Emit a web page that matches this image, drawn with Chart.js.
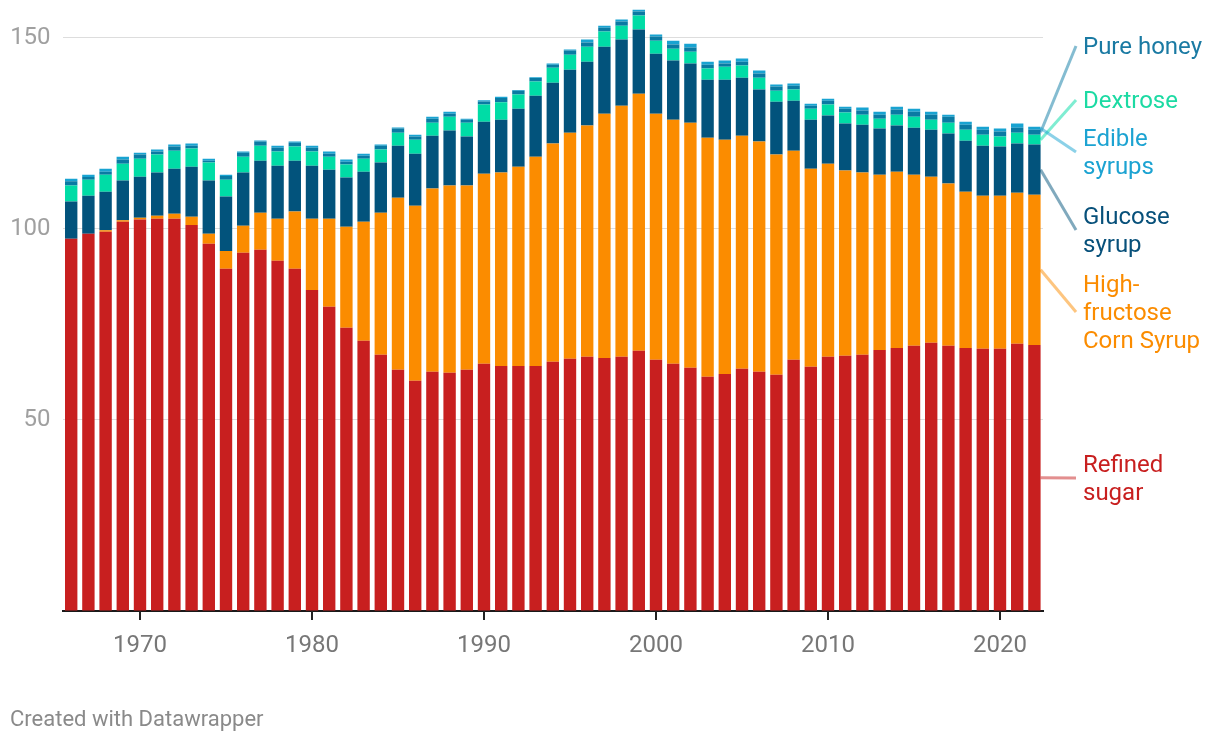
<!DOCTYPE html>
<html>
<head>
<meta charset="utf-8">
<script src="https://cdn.jsdelivr.net/npm/chart.js@4"></script>
<style>
  body { margin: 0; background: #fff; font-family: Roboto, sans-serif; }
  #wrap { position: relative; width: 1220px; height: 742px; }
  #c { position: absolute; left: 0; top: 0; }
  .lbl { position: absolute; left: 1083px; font-size: 24px; line-height: 28px; white-space: nowrap; }
  .foot { position: absolute; left: 10px; top: 706px; font-size: 22px; color: #8a8a8a; }
</style>
</head>
<body>
<div id="wrap">
  <canvas id="c" width="1220" height="742"></canvas>
  <div class="foot">Created with Datawrapper</div>
</div>
<script>
const years = [];
for (let y = 1966; y <= 2022; y++) years.push(y);

const refinedSugar = [97.4, 98.7, 99.2, 101.8, 102.4, 102.6, 102.6, 101.0, 96.1, 89.5,
  93.7, 94.5, 91.6, 89.5, 84.0, 79.6, 74.1, 70.7, 67.0, 63.1,
  60.2, 62.6, 62.3, 63.1, 64.7, 64.1, 64.1, 64.1, 65.2, 66.0,
  66.5, 66.2, 66.5, 68.1, 65.7, 64.7, 63.6, 61.3, 62.0, 63.4,
  62.6, 61.8, 65.7, 63.9, 66.5, 66.8, 67.0, 68.3, 68.8, 69.4,
  70.2, 69.4, 68.8, 68.6, 68.6, 69.9, 69.6];
const hfcs = [0, 0, 0.4, 0.4, 0.5, 0.8, 1.3, 2.1, 2.6, 4.7,
  7.1, 9.7, 11.0, 15.0, 18.6, 23.0, 26.4, 31.1, 37.2, 45.0,
  45.8, 47.9, 49.0, 48.2, 49.7, 50.6, 52.1, 54.7, 57.1, 59.1,
  60.5, 63.9, 65.7, 67.2, 64.4, 63.8, 64.1, 62.5, 61.3, 60.9,
  60.2, 57.6, 54.7, 51.8, 50.5, 48.4, 47.7, 45.8, 46.1, 44.7,
  43.4, 42.4, 40.9, 40.0, 40.0, 39.5, 39.3];
const glucoseSyrup = [9.7, 9.9, 10.1, 10.4, 10.7, 11.3, 11.8, 13.1, 13.9, 14.2,
  13.9, 13.6, 13.9, 13.3, 13.9, 12.8, 12.9, 13.1, 13.1, 13.6,
  13.6, 13.8, 14.4, 12.8, 13.6, 13.8, 15.2, 16.0, 15.9, 16.5,
  16.7, 17.5, 17.3, 16.8, 15.7, 15.5, 15.5, 15.2, 15.7, 15.2,
  13.6, 13.8, 13.1, 12.8, 12.6, 12.3, 12.5, 12.1, 12.1, 12.3,
  12.3, 13.1, 13.3, 13.1, 12.9, 12.9, 13.1];
const dextrose = [4.2, 4.2, 4.4, 4.4, 4.7, 4.7, 4.7, 4.8, 4.7, 4.4,
  4.1, 3.9, 3.7, 3.7, 3.7, 3.4, 3.4, 3.4, 3.4, 3.4,
  3.7, 3.4, 3.6, 3.6, 4.5, 4.6, 3.7, 3.7, 3.9, 3.9,
  3.9, 4.0, 3.6, 3.7, 3.4, 3.1, 3.1, 2.9, 3.4, 3.2,
  3.1, 2.9, 2.9, 2.9, 2.9, 2.9, 2.6, 2.6, 2.8, 2.9,
  2.6, 2.8, 2.9, 2.9, 2.6, 2.8, 2.6];
const pureHoney = [1.1, 0.7, 0.8, 1.1, 1.1, 0.8, 1.1, 0.7, 0.5, 1.0,
  1.1, 1.1, 1.0, 1.0, 1.0, 0.8, 0.7, 0.8, 1.0, 1.1,
  0.8, 1.1, 0.8, 0.8, 0.8, 1.1, 1.0, 0.9, 0.8, 1.1,
  1.1, 1.0, 1.1, 1.0, 1.1, 1.1, 1.1, 1.0, 0.8, 1.0,
  1.1, 1.1, 1.0, 0.8, 1.0, 1.0, 1.1, 1.0, 1.4, 1.3,
  1.3, 1.6, 1.3, 1.3, 1.3, 1.3, 1.3];
const edibleSyrups = [0.7, 0.6, 0.8, 0.7, 0.5, 0.5, 0.5, 0.6, 0.5, 0.3,
  0.3, 0.3, 0.5, 0.3, 0.5, 0.6, 0.6, 0.5, 0.3, 0.3,
  0.5, 0.5, 0.5, 0.3, 0.3, 0.3, 0.2, 0.2, 0.3, 0.3,
  0.8, 0.5, 0.5, 0.5, 0.5, 1.0, 1.0, 0.8, 0.8, 0.8,
  0.8, 0.5, 0.6, 0.5, 0.5, 0.5, 0.8, 0.8, 0.7, 0.8,
  0.8, 0.5, 0.8, 0.8, 0.8, 1.1, 0.8];

const yTicks = [50, 100, 150];

// series, bottom to top of the stack
const series = [
  { name: 'Refined sugar', data: refinedSugar, color: '#c81f1f', text: '#c81f1f', lines: ['Refined', 'sugar'], top: 450 },
  { name: 'High-fructose Corn Syrup', data: hfcs, color: '#fb8c00', text: '#fb8c00', lines: ['High-', 'fructose', 'Corn Syrup'], top: 270 },
  { name: 'Glucose syrup', data: glucoseSyrup, color: '#02537c', text: '#07507a', lines: ['Glucose', 'syrup'], top: 202 },
  { name: 'Dextrose', data: dextrose, color: '#00dca6', text: '#1cdaa3', lines: ['Dextrose'], top: 86 },
  { name: 'Pure honey', data: pureHoney, color: '#0a7aa3', text: '#1a7aa3', lines: ['Pure honey'], top: 32 },
  { name: 'Edible syrups', data: edibleSyrups, color: '#18a3d1', text: '#1ca3d2', lines: ['Edible', 'syrups'], top: 124 }
];

const wrap = document.getElementById('wrap');
series.forEach(function (s) {
  const d = document.createElement('div');
  d.className = 'lbl';
  d.style.top = s.top + 'px';
  d.style.color = s.text;
  d.innerHTML = s.lines.join('<br>');
  wrap.appendChild(d);
});

function hexAlpha(hex, a) {
  const n = parseInt(hex.slice(1), 16);
  return 'rgba(' + (n >> 16) + ',' + ((n >> 8) & 255) + ',' + (n & 255) + ',' + a + ')';
}

// label connectors + decade tick marks
const extras = {
  id: 'extras',
  afterDraw: function (chart) {
    const ctx = chart.ctx;
    const xs = chart.scales.x;
    const area = chart.chartArea;
    ctx.save();
    ctx.lineWidth = 3;
    series.forEach(function (s, i) {
      const meta = chart.getDatasetMeta(i);
      const bar = meta.data[meta.data.length - 1];
      const x0 = bar.x + bar.width / 2;
      const y0 = (bar.y + bar.base) / 2;
      const y1 = s.top + s.lines.length * 14;
      ctx.strokeStyle = hexAlpha(s.color, 0.5);
      ctx.beginPath();
      ctx.moveTo(x0, y0);
      ctx.lineTo(1076, y1);
      ctx.stroke();
    });
    ctx.strokeStyle = '#222';
    ctx.lineWidth = 2;
    years.forEach(function (y, i) {
      if (y % 10 !== 0) return;
      const x = Math.round(xs.getPixelForValue(i));
      ctx.beginPath();
      ctx.moveTo(x, area.bottom);
      ctx.lineTo(x, area.bottom + 9);
      ctx.stroke();
    });
    ctx.restore();
  }
};

Chart.defaults.font.family = 'Roboto';

new Chart(document.getElementById('c'), {
  type: 'bar',
  data: {
    labels: years,
    datasets: series.map(function (s) {
      return {
        label: s.name,
        data: s.data,
        backgroundColor: s.color,
        borderWidth: 0,
        categoryPercentage: 1,
        barPercentage: 0.72
      };
    })
  },
  options: {
    responsive: false,
    animation: false,
    layout: { padding: { top: 7, right: 177, bottom: 0, left: 0 } },
    plugins: {
      legend: { display: false },
      tooltip: { enabled: false }
    },
    scales: {
      x: {
        stacked: true,
        afterFit: function (s) { s.height = 131; s.paddingLeft = 0; s.paddingRight = 0; },
        border: { display: true, color: '#1a1a1a', width: 2 },
        grid: { display: false },
        ticks: {
          autoSkip: false,
          maxRotation: 0,
          padding: 13,
          color: '#777',
          font: { size: 24 },
          callback: function (v, i) { return years[i] % 10 === 0 ? String(years[i]) : null; }
        }
      },
      y: {
        stacked: true,
        min: 0,
        max: 158,
        afterFit: function (s) { s.width = 62.6; s.paddingTop = 0; s.paddingBottom = 0; },
        border: { display: false },
        grid: {
          drawTicks: false,
          lineWidth: 1,
          color: function (c) { return yTicks.indexOf(c.tick.value) >= 0 ? '#dddddd' : 'rgba(0,0,0,0)'; }
        },
        ticks: {
          stepSize: 50,
          padding: 12,
          color: '#a0a0a0',
          font: { size: 24 },
          callback: function (v) { return yTicks.indexOf(v) >= 0 ? String(v) : ''; }
        }
      }
    }
  },
  plugins: [extras]
});
</script>
</body>
</html>
